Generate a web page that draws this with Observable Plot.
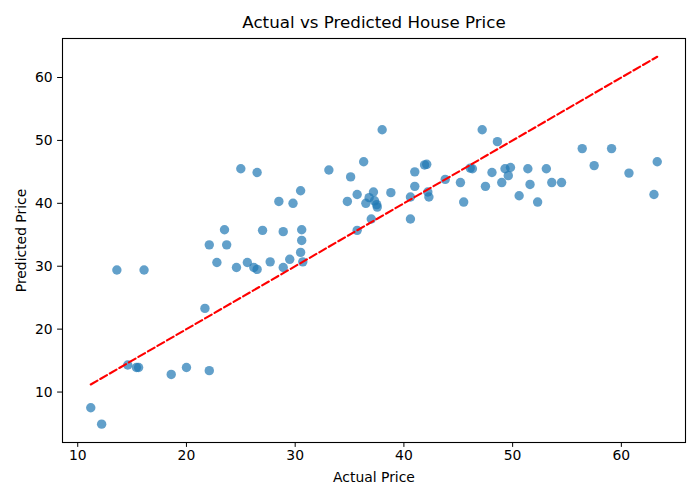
<!DOCTYPE html>
<html>
<head>
<meta charset="utf-8">
<script src="https://cdn.jsdelivr.net/npm/d3@7"></script>
<script src="https://cdn.jsdelivr.net/npm/@observablehq/plot@0.6"></script>
<style>
  html, body { margin: 0; padding: 0; background: white; }
</style>
</head>
<body>
<div id="chart"></div>
<script>
const title = "Actual vs Predicted House Price";
const xLabel = "Actual Price";
const yLabel = "Predicted Price";
const xTicks = [10, 20, 30, 40, 50, 60];
const yTicks = [10, 20, 30, 40, 50, 60];

const actual = [
  11.2, 12.2, 13.6, 14.6, 15.4, 15.6, 16.1, 18.6, 20.0, 21.7,
  22.1, 22.1, 22.8, 23.5, 23.7, 24.6, 25.0, 25.6, 26.2, 26.5,
  26.5, 27.0, 27.7, 28.5, 28.9, 28.9, 29.5, 29.8, 30.5, 30.6,
  30.6, 30.5, 30.7, 33.1, 34.8, 35.1, 35.7, 35.7, 36.3, 36.5,
  36.8, 37.0, 37.2, 37.3, 37.5, 37.55, 38.0, 38.8, 40.6, 40.6,
  41.0, 41.0, 41.9, 42.1, 42.2, 42.3, 43.8, 45.2, 45.5, 46.1,
  46.3, 47.2, 47.5, 48.1, 48.6, 49.0, 49.3, 49.6, 49.8, 50.6,
  51.4, 51.6, 52.3, 53.1, 53.6, 54.5, 56.4, 57.5, 59.1, 60.7,
  63.0, 63.3
];
const predicted = [
  7.5, 4.9, 29.4, 14.3, 13.9, 13.9, 29.4, 12.8, 13.9, 23.3,
  13.4, 33.4, 30.6, 35.8, 33.4, 29.8, 45.5, 30.6, 29.8, 29.5,
  44.9, 35.7, 30.7, 40.3, 35.5, 29.8, 31.1, 40.0, 42.0, 35.8,
  34.1, 32.2, 30.7, 45.3, 40.3, 44.2, 41.4, 35.7, 46.6, 40.0,
  40.9, 37.5, 41.8, 40.4, 39.8, 39.4, 51.7, 41.7, 41.0, 37.5,
  45.0, 42.7, 46.1, 46.2, 41.8, 41.0, 43.8, 43.3, 40.2, 45.6,
  45.5, 51.7, 42.7, 44.9, 49.8, 43.3, 45.5, 44.4, 45.7, 41.2,
  45.5, 43.0, 40.2, 45.5, 43.3, 43.3, 48.7, 46.0, 48.7, 44.8,
  41.4, 46.6
];

const points = actual.map((a, i) => ({actual: a, predicted: predicted[i]}));
const lo = d3.min(actual), hi = d3.max(actual);
const ideal = [{v: lo}, {v: hi}];

const chart = Plot.plot({
  width: 700,
  height: 500,
  marginLeft: 62,
  marginRight: 15,
  marginTop: 38,
  marginBottom: 58,
  x: {domain: [8.6, 65.9]},
  y: {domain: [1.98, 66.2]},
  style: {fontFamily: "DejaVu Sans", fontSize: "13.9px", color: "black", background: "white"},
  marks: [
    Plot.axisX({ticks: xTicks, tickSize: 4.9, tickPadding: 3, label: null, fontSize: 13.9}),
    Plot.axisY({ticks: yTicks, tickSize: 4.9, tickPadding: 5, label: null, fontSize: 13.9}),
    Plot.dot(points, {x: "actual", y: "predicted", r: 4.7, fill: "#1f77b4", fillOpacity: 0.7, stroke: "none"}),
    Plot.line(ideal, {x: "v", y: "v", stroke: "red", strokeWidth: 2.1, strokeDasharray: "7.7,3.3"}),
    Plot.frame({stroke: "black", strokeWidth: 1.1}),
    Plot.text([title], {text: d => d, frameAnchor: "top", lineAnchor: "middle", dy: -16, fontSize: 16.7, fill: "black"}),
    Plot.text([xLabel], {text: d => d, frameAnchor: "bottom", lineAnchor: "middle", dy: 35, fontSize: 13.9, fill: "black"}),
    Plot.text([yLabel], {text: d => d, frameAnchor: "left", lineAnchor: "middle", dx: -41, rotate: -90, textAnchor: "middle", fontSize: 13.9, fill: "black"})
  ]
});
document.getElementById("chart").appendChild(chart);
</script>
</body>
</html>
